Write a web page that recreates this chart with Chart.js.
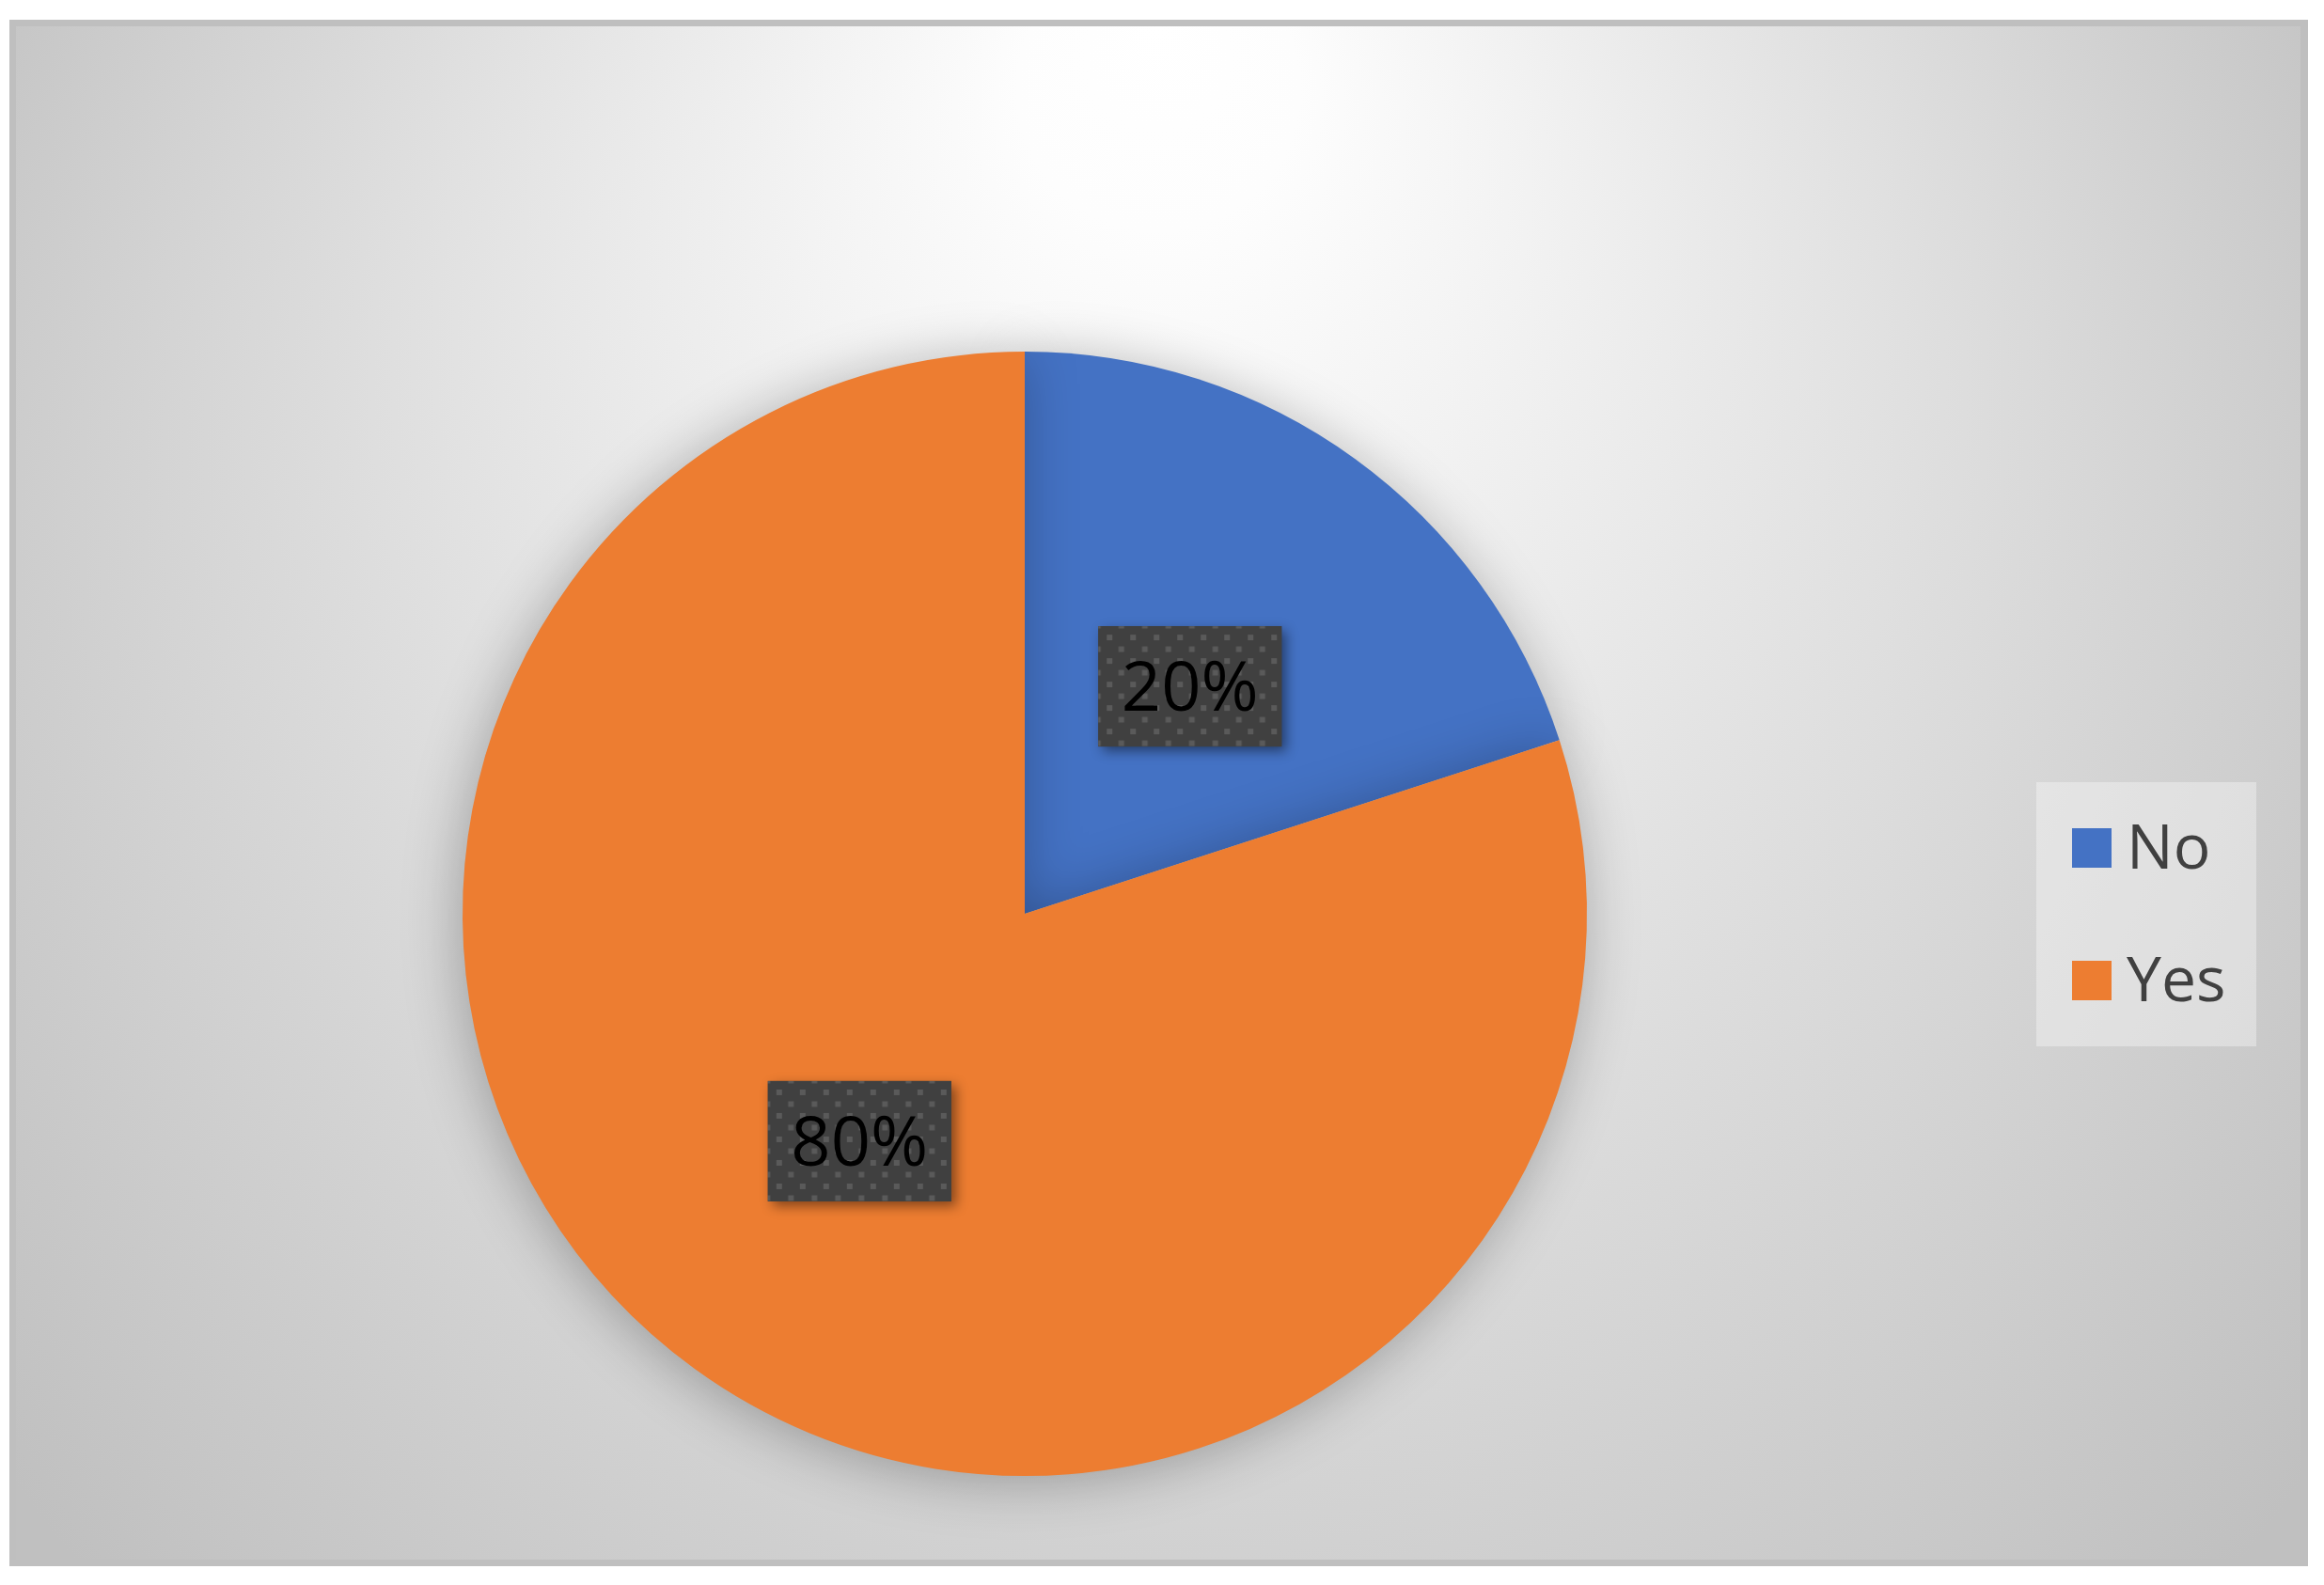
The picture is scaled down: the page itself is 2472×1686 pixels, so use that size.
<!DOCTYPE html>
<html>
<head>
<meta charset="utf-8">
<script src="https://cdn.jsdelivr.net/npm/chart.js@4.4.1/dist/chart.umd.min.js"></script>
<style>
  html, body { margin: 0; padding: 0; background: #fff; }
  canvas { display: block; }
</style>
</head>
<body>
<canvas id="pieChart" width="2472" height="1686"></canvas>
<script>
const categories = ['No', 'Yes'];
const answerShares = [20, 80];
const sliceColors = ['#4472C4', '#ED7D31'];

// Excel-like frame with a radial white-to-grey fill lit from the top
const frameBackground = {
  id: 'frameBackground',
  beforeDraw(chart) {
    const ctx = chart.ctx;
    ctx.save();
    ctx.fillStyle = '#ffffff';
    ctx.fillRect(0, 0, chart.width, chart.height);
    ctx.fillStyle = '#bfbfbf';
    ctx.fillRect(10, 21, 2445, 1645);

    const grad = ctx.createRadialGradient(1232, 28, 0, 1232, 700, 1500);
    grad.addColorStop(0, '#ffffff');
    grad.addColorStop(0.1, '#fdfdfd');
    grad.addColorStop(1, '#c0c0c0');
    ctx.fillStyle = grad;
    ctx.fillRect(17, 28, 2430, 1631);
    ctx.restore();
  }
};

// soft glow behind the pie
const pieShadow = {
  id: 'pieShadow',
  beforeDatasetsDraw(chart) {
    const ctx = chart.ctx;
    ctx.save();
    ctx.shadowColor = 'rgba(0, 0, 0, 0.28)';
    ctx.shadowBlur = 60;
    ctx.shadowOffsetX = -4;
    ctx.shadowOffsetY = 6;
  },
  afterDatasetsDraw(chart) {
    chart.ctx.restore();
  }
};

function dotPattern(ctx) {
  const tile = document.createElement('canvas');
  tile.width = 25;
  tile.height = 25;
  const t = tile.getContext('2d');
  t.fillStyle = '#404040';
  t.fillRect(0, 0, 25, 25);
  t.fillStyle = '#5a5a5a';
  t.fillRect(9, 9, 6, 6);
  t.fillRect(21.5, 21.5, 6, 6);
  t.fillRect(-3.5, 21.5, 6, 6);
  t.fillRect(21.5, -3.5, 6, 6);
  t.fillRect(-3.5, -3.5, 6, 6);
  return ctx.createPattern(tile, 'repeat');
}

// percentage labels in dark patterned boxes
const sliceLabels = {
  id: 'sliceLabels',
  afterDatasetsDraw(chart) {
    const ctx = chart.ctx;
    const meta = chart.getDatasetMeta(0);
    const total = answerShares.reduce((a, b) => a + b, 0);
    const pattern = dotPattern(ctx);
    meta.data.forEach((arc, i) => {
      const pos = arc.tooltipPosition();
      const text = Math.round(answerShares[i] / total * 100) + '%';
      const w = 195, h = 128;
      const x = pos.x - w / 2, y = pos.y - h / 2;
      ctx.save();
      ctx.shadowColor = 'rgba(0, 0, 0, 0.45)';
      ctx.shadowBlur = 12;
      ctx.shadowOffsetX = 5;
      ctx.shadowOffsetY = 5;
      ctx.fillStyle = '#404040';
      ctx.fillRect(x, y, w, h);
      ctx.restore();
      ctx.save();
      ctx.translate(x, y);
      ctx.fillStyle = pattern;
      ctx.fillRect(0, 0, w, h);
      ctx.restore();
      ctx.save();
      ctx.fillStyle = '#000000';
      ctx.font = '74px "Open Sans", "Noto Sans", sans-serif';
      ctx.textAlign = 'center';
      ctx.textBaseline = 'alphabetic';
      ctx.fillText(text, pos.x, pos.y + 26);
      ctx.restore();
    });
  }
};

// legend box on the right
const sideLegend = {
  id: 'sideLegend',
  afterDraw(chart) {
    const ctx = chart.ctx;
    ctx.save();
    ctx.fillStyle = 'rgba(255, 255, 255, 0.35)';
    ctx.fillRect(2166, 832, 234, 281);
    const colors = chart.data.datasets[0].backgroundColor;
    chart.data.labels.forEach((label, i) => {
      const cy = 902 + i * 141;
      ctx.fillStyle = colors[i];
      ctx.fillRect(2204, cy - 21, 42, 42);
      ctx.fillStyle = '#404040';
      ctx.font = '66px "Open Sans", "Noto Sans", sans-serif';
      ctx.textBaseline = 'alphabetic';
      ctx.fillText(label, 2262, cy + 22);
    });
    ctx.restore();
  }
};

new Chart(document.getElementById('pieChart'), {
  type: 'pie',
  data: {
    labels: categories,
    datasets: [{
      data: answerShares,
      backgroundColor: sliceColors,
      borderWidth: 0
    }]
  },
  options: {
    responsive: false,
    animation: false,
    devicePixelRatio: 1,
    layout: {
      padding: { left: 492, right: 784, top: 374, bottom: 116 }
    },
    plugins: {
      legend: { display: false },
      tooltip: { enabled: false }
    }
  },
  plugins: [frameBackground, pieShadow, sliceLabels, sideLegend]
});
</script>
</body>
</html>
